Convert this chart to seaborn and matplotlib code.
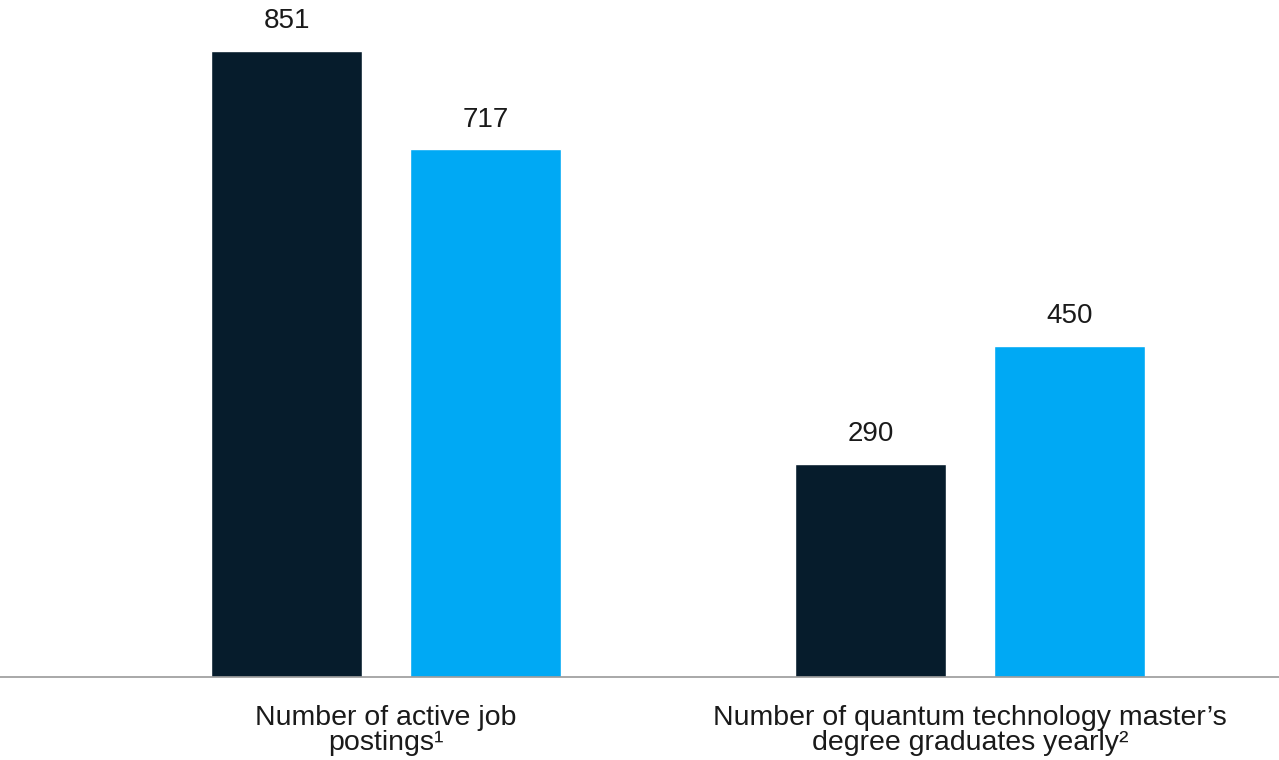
import matplotlib
matplotlib.use('Agg')
import matplotlib.pyplot as plt
import seaborn as sns
import pandas as pd

# Données
categories = ["Number of active job\npostings\u00b9",
              "Number of quantum technology master\u2019s\ndegree graduates yearly\u00b2"]
series = ["Series 1", "Series 2"]
values_1 = [851, 290]
values_2 = [717, 450]
colors = ["#061c2c", "#00a9f4"]

df = pd.DataFrame({
    "category": categories * 2,
    "series": [series[0]] * 2 + [series[1]] * 2,
    "value": values_1 + values_2,
})

sns.set_theme(style="white")
plt.rcParams['font.family'] = ['Liberation Sans', 'DejaVu Sans']

fig = plt.figure(figsize=(12.79, 7.6), dpi=100)
ax = fig.add_axes([0, 83 / 760, 1, 677 / 760])

sns.barplot(data=df, x="category", y="value", hue="series", palette=colors,
            width=0.68, gap=0.24, legend=False, ax=ax, saturation=1)

for cont in ax.containers:
    ax.bar_label(cont, fmt="%d", padding=12, fontsize=20, color="#1a1a1a")

ax.set_xlim(-0.661, 1.529)
ax.set_ylim(0, 920)
ax.set_xlabel("")
ax.set_ylabel("")
ax.set_yticks([])
ax.tick_params(axis="x", length=0, pad=20, labelsize=20.5, labelcolor="#1a1a1a")
for lab in ax.get_xticklabels():
    lab.set_linespacing(0.95)
for side in ["top", "right", "left"]:
    ax.spines[side].set_visible(False)
ax.spines["bottom"].set_color("#9a9a9a")
ax.spines["bottom"].set_linewidth(1.2)

plt.savefig("out.png", dpi=100)
plt.close()
